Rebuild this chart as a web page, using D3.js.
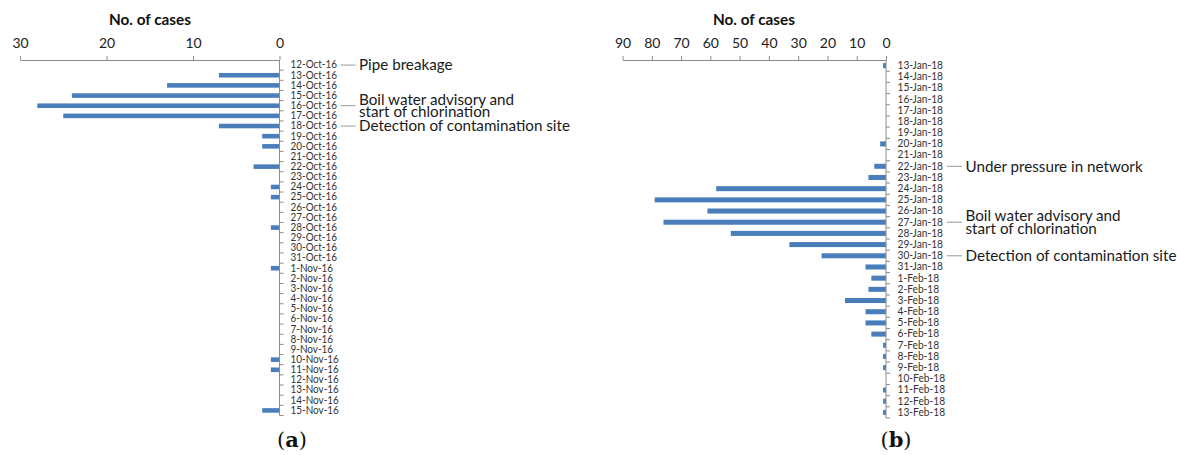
<!DOCTYPE html>
<html>
<head>
<meta charset="utf-8">
<script src="https://cdn.jsdelivr.net/npm/d3@7"></script>
<style>
  html, body { margin: 0; padding: 0; background: #fff; }
  svg { display: block; }
</style>
</head>
<body>
<svg id="chart" width="1177" height="455"></svg>
<script>
// Daily case counts for two outbreak episodes, with event annotations.
const datesA = ["12-Oct-16","13-Oct-16","14-Oct-16","15-Oct-16","16-Oct-16","17-Oct-16","18-Oct-16",
  "19-Oct-16","20-Oct-16","21-Oct-16","22-Oct-16","23-Oct-16","24-Oct-16","25-Oct-16","26-Oct-16",
  "27-Oct-16","28-Oct-16","29-Oct-16","30-Oct-16","31-Oct-16","1-Nov-16","2-Nov-16","3-Nov-16",
  "4-Nov-16","5-Nov-16","6-Nov-16","7-Nov-16","8-Nov-16","9-Nov-16","10-Nov-16","11-Nov-16",
  "12-Nov-16","13-Nov-16","14-Nov-16","15-Nov-16"];
const casesA = [0,7,13,24,28,25,7,2,2,0,3,0,1,1,0,0,1,0,0,0,1,0,0,0,0,0,0,0,0,1,1,0,0,0,2];
const ticksA = [30,20,10,0];
const eventsA = [
  { date: "12-Oct-16", lines: ["Pipe breakage"] },
  { date: "16-Oct-16", lines: ["Boil water advisory and", "start of chlorination"] },
  { date: "18-Oct-16", lines: ["Detection of contamination site"] }
];

const datesB = ["13-Jan-18","14-Jan-18","15-Jan-18","16-Jan-18","17-Jan-18","18-Jan-18","19-Jan-18",
  "20-Jan-18","21-Jan-18","22-Jan-18","23-Jan-18","24-Jan-18","25-Jan-18","26-Jan-18","27-Jan-18",
  "28-Jan-18","29-Jan-18","30-Jan-18","31-Jan-18","1-Feb-18","2-Feb-18","3-Feb-18","4-Feb-18",
  "5-Feb-18","6-Feb-18","7-Feb-18","8-Feb-18","9-Feb-18","10-Feb-18","11-Feb-18","12-Feb-18","13-Feb-18"];
const casesB = [1,0,0,0,0,0,0,2,0,4,6,58,79,61,76,53,33,22,7,5,6,14,7,7,5,1,1,1,0,1,1,1];
const ticksB = [90,80,70,60,50,40,30,20,10,0];
const eventsB = [
  { date: "22-Jan-18", lines: ["Under pressure in network"] },
  { date: "27-Jan-18", lines: ["Boil water advisory and", "start of chlorination"] },
  { date: "30-Jan-18", lines: ["Detection of contamination site"] }
];

const svg = d3.select("#chart");
const SANS = "Lato, 'Open Sans', sans-serif";
const BAR = "#4a7ebb";
const AXIS = "#8c8c8c";

// width of a string at a given size
function measure(text, size, weight) {
  const t = svg.append("text").attr("font-family", SANS).attr("font-weight", weight || "normal")
    .attr("font-size", size).text(text);
  const w = t.node().getComputedTextLength();
  t.remove();
  return w;
}
// font size that makes a string span a given width
function fitSize(text, width, weight) {
  return 100 * width / measure(text, 100, weight);
}

const CAT_SIZE = 10.5;
const noteSize = fitSize("Detection of contamination site", 211);
const titleSize = fitSize("No. of cases", 82, "bold");

function panel(cfg) {
  const g = svg.append("g");
  const x = d3.scaleLinear().domain([0, cfg.max]).range([cfg.zeroX, cfg.maxX]);
  const y = d3.scaleBand().domain(cfg.dates).range([60, cfg.bottom])
    .paddingInner(0.55).paddingOuter(0.275);
  const step = y.step();

  // bars
  g.selectAll("rect.bar").data(cfg.dates.map((d, i) => ({ d, v: cfg.values[i] })))
    .join("rect").attr("class", "bar")
    .attr("x", d => x(d.v))
    .attr("y", d => y(d.d))
    .attr("width", d => x(0) - x(d.v))
    .attr("height", y.bandwidth())
    .attr("fill", BAR);

  // top value axis
  const xa = g.append("g").attr("transform", "translate(0,60)")
    .call(d3.axisTop(x).tickValues(cfg.ticks).tickSize(4).tickSizeOuter(0).tickPadding(8));
  xa.select(".domain").attr("stroke", AXIS);
  xa.selectAll(".tick line").attr("stroke", AXIS);
  xa.selectAll(".tick text").attr("font-family", SANS).attr("font-size", 14).attr("fill", "#222");

  // axis title
  g.append("text").attr("x", cfg.titleX).attr("y", 25)
    .attr("text-anchor", "middle").attr("font-family", SANS).attr("font-weight", "bold")
    .attr("font-size", titleSize).attr("fill", "#111").text("No. of cases");

  // category axis with ticks at band boundaries
  const x0 = x(0);
  g.append("line").attr("x1", x0).attr("x2", x0).attr("y1", 60).attr("y2", cfg.bottom)
    .attr("stroke", AXIS);
  const bounds = cfg.dates.map(d => y(d) - step * 0.275).concat([cfg.bottom]).slice(1);
  g.selectAll("line.btick").data(bounds).join("line").attr("class", "btick")
    .attr("x1", x0).attr("x2", x0 + 4).attr("y1", d => d).attr("y2", d => d)
    .attr("stroke", AXIS);
  const ya = g.append("g").attr("transform", `translate(${x0},0)`)
    .call(d3.axisRight(y).tickSize(0).tickPadding(cfg.labelPad));
  ya.select(".domain").remove();
  // narrow the labels so the reference label spans cfg.refWidth
  const squeeze = cfg.refWidth / measure(cfg.dates[0], CAT_SIZE);
  ya.selectAll(".tick text").attr("font-family", SANS).attr("font-size", CAT_SIZE).attr("fill", "#333")
    .each(function () {
      const w = this.getComputedTextLength();
      d3.select(this).attr("textLength", w * squeeze).attr("lengthAdjust", "spacingAndGlyphs");
    });

  // event annotations
  cfg.events.forEach(ev => {
    const cy = y(ev.date) + y.bandwidth() / 2;
    const lx = x0 + 61;
    g.append("line").attr("x1", lx).attr("x2", lx + 15).attr("y1", cy).attr("y2", cy)
      .attr("stroke", "#999");
    const n = ev.lines.length;
    ev.lines.forEach((line, i) => {
      g.append("text").attr("x", lx + 18.5)
        .attr("y", cy + (i - (n - 1) / 2) * 12.4)
        .attr("dy", "0.35em")
        .attr("font-family", SANS).attr("font-size", noteSize).attr("fill", "#1a1a1a")
        .text(line);
    });
  });

  // panel caption
  const cap = svg.append("text").attr("x", cfg.capX).attr("y", 447).attr("text-anchor", "middle")
    .attr("font-family", "'DejaVu Serif', serif").attr("font-size", 21).attr("fill", "#111");
  cap.append("tspan").text("(");
  cap.append("tspan").attr("font-weight", "bold").text(cfg.caption);
  cap.append("tspan").text(")");
}

panel({ dates: datesA, values: casesA, ticks: ticksA, events: eventsA, max: 30,
  zeroX: 279.5, maxX: 20, bottom: 415.5, titleX: 150, labelPad: 11, refWidth: 46.5,
  capX: 292, caption: "a" });
panel({ dates: datesB, values: casesB, ticks: ticksB, events: eventsB, max: 90,
  zeroX: 886, maxX: 622.5, bottom: 418, titleX: 754, labelPad: 11.5, refWidth: 45.5,
  capX: 896, caption: "b" });
</script>
</body>
</html>
